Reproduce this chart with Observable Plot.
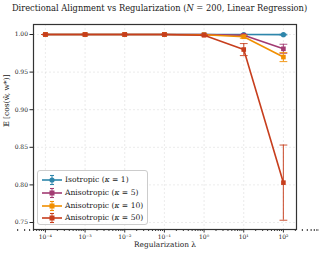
<!DOCTYPE html>
<html><head><meta charset="utf-8">
<script src="https://cdn.jsdelivr.net/npm/d3@7"></script>
<script src="https://cdn.jsdelivr.net/npm/@observablehq/plot@0.6"></script>
<style>
body{margin:0;background:#fff;}
#wrap{position:relative;width:319px;height:255px;font-family:"DejaVu Serif",serif;}
#title{position:absolute;left:0;top:3px;width:319px;text-align:center;font-size:8.3px;color:#222;white-space:nowrap;}
#legend{position:absolute;left:37px;top:170px;width:111px;height:55px;background:rgba(255,255,255,0.85);border:1px solid #ccc;border-radius:3px;box-sizing:border-box;}
.row{position:absolute;left:0;height:12px;font-size:7.6px;color:#222;white-space:nowrap;}
.row svg{position:absolute;left:3px;top:0;}
.row span{position:absolute;left:27px;top:0;line-height:12px;}
</style></head>
<body><div id="wrap"><div id="title">Directional Alignment vs Regularization (<i>N</i> = 200, Linear Regression)</div><div id="chart"></div><div id="legend"></div></div>
<script>
const lambdas = [1e-4, 1e-3, 1e-2, 1e-1, 1, 10, 100];
const seriesNames = ["Isotropic (κ = 1)", "Anisotropic (κ = 5)", "Anisotropic (κ = 10)", "Anisotropic (κ = 50)"];
const seriesColors = ["#2E86AB", "#A23B72", "#F18F01", "#C73E1D"];
const seriesSymbols = ["circle", "square", "square", "square"];
const meanIso = [1.000, 1.000, 1.000, 1.000, 1.000, 1.000, 0.9998];
const stdIso  = [0, 0, 0, 0, 0, 0.0002, 0.0005];
const meanK5  = [1.000, 1.000, 1.000, 1.000, 0.9998, 0.999, 0.981];
const stdK5   = [0, 0, 0, 0, 0.0002, 0.001, 0.006];
const meanK10 = [1.000, 1.000, 1.000, 1.000, 0.9997, 0.997, 0.970];
const stdK10  = [0, 0, 0, 0, 0.0003, 0.002, 0.006];
const meanK50 = [1.000, 1.000, 1.000, 1.000, 0.999, 0.980, 0.803];
const stdK50  = [0, 0, 0, 0, 0.0005, 0.008, 0.050];
const yTicks = [0.75, 0.80, 0.85, 0.90, 0.95, 1.00];
const xTickLabels = ["10⁻⁴", "10⁻³", "10⁻²", "10⁻¹", "10⁰", "10¹", "10²"];

const means = [meanIso, meanK5, meanK10, meanK50];
const stds = [stdIso, stdK5, stdK10, stdK50];
const data = [];
seriesNames.forEach((s, i) => lambdas.forEach((l, j) => data.push({series: s, idx: i, lambda: l, mean: means[i][j], std: stds[i][j]})));
const minor = [];
for (let e = -5; e <= 2; e++) for (let k = 2; k <= 9; k++) minor.push(k * Math.pow(10, e));
const capSymbol = {draw(ctx, size) { const r = Math.sqrt(size); ctx.moveTo(-r, 0); ctx.lineTo(r, 0); }};
const FONT = '"DejaVu Serif",serif';

const marks = [
  Plot.gridX(lambdas, {stroke: "#bbb", strokeOpacity: 0.5, strokeDasharray: "2,2", strokeWidth: 0.6}),
  Plot.gridY(yTicks, {stroke: "#bbb", strokeOpacity: 0.5, strokeDasharray: "2,2", strokeWidth: 0.6}),
];
seriesNames.forEach((s, i) => {
  const d = data.filter(r => r.idx === i);
  marks.push(
    Plot.ruleX(d, {x: "lambda", y1: r => r.mean - r.std, y2: r => r.mean + r.std, stroke: seriesColors[i], strokeWidth: 1.2, strokeOpacity: 0.8}),
    Plot.dot(d, {x: "lambda", y: r => r.mean - r.std, symbol: capSymbol, r: 2.2, stroke: seriesColors[i], strokeWidth: 1.1, fill: "none", strokeOpacity: 0.8}),
    Plot.dot(d, {x: "lambda", y: r => r.mean + r.std, symbol: capSymbol, r: 2.2, stroke: seriesColors[i], strokeWidth: 1.1, fill: "none", strokeOpacity: 0.8}),
    Plot.line(d, {x: "lambda", y: "mean", stroke: seriesColors[i], strokeWidth: 1.6}),
    Plot.dot(d, {x: "lambda", y: "mean", symbol: seriesSymbols[i], r: 2.6, fill: seriesColors[i], stroke: "none"})
  );
});
marks.push(
  Plot.axisX({ticks: minor, tickSize: 2, tickFormat: () => "", label: null, stroke: "#333"}),
  Plot.axisX({ticks: lambdas, tickSize: 3.5, tickFormat: (d) => xTickLabels[lambdas.indexOf(d)], fontSize: 6, tickPadding: 2, label: null, stroke: "#333"}),
  Plot.axisY({ticks: yTicks, tickSize: 3.5, tickFormat: d3.format(".2f"), fontSize: 6, tickPadding: 2, label: null}),
  Plot.frame({stroke: "#333", strokeWidth: 1.2}),
  Plot.text(["𝔼 [cos(ŵ, w*)]"], {frameAnchor: "left", dx: -27, rotate: -90, fontSize: 7.5, fill: "#222", text: d => d}),
  Plot.text(["Regularization λ"], {frameAnchor: "bottom", dy: 17, fontSize: 7.4, fill: "#222", text: d => d})
);

const chart = Plot.plot({
  width: 319, height: 255,
  marginLeft: 33, marginRight: 23, marginTop: 24, marginBottom: 26,
  style: {fontFamily: FONT, color: "#222", background: "#fff"},
  x: {type: "log", domain: [Math.pow(10, -4.3), Math.pow(10, 2.33)]},
  y: {domain: [0.7407, 1.0133]},
  marks
});
chart.style.position = "absolute"; chart.style.left = "0"; chart.style.top = "0";
document.getElementById("chart").appendChild(chart);
document.getElementById("title").style.zIndex = 2;
const leg = document.getElementById("legend");
leg.style.zIndex = 2;
seriesNames.forEach((s, i) => {
  const row = document.createElement("div");
  row.className = "row";
  row.style.top = (3 + i * 12.8) + "px";
  row.style.width = "108px";
  const c = seriesColors[i];
  const mk = seriesSymbols[i] === "circle"
    ? `<circle cx="11" cy="6" r="2.6" fill="${c}"/>`
    : `<rect x="8.5" y="3.5" width="5" height="5" fill="${c}"/>`;
  row.innerHTML = `<svg width="22" height="12"><line x1="1" x2="21" y1="6" y2="6" stroke="${c}" stroke-width="1.6"/><line x1="11" x2="11" y1="1.5" y2="10.5" stroke="${c}" stroke-width="1.1" opacity="0.8"/><line x1="9" x2="13" y1="1.5" y2="1.5" stroke="${c}" stroke-width="1.1"/><line x1="9" x2="13" y1="10.5" y2="10.5" stroke="${c}" stroke-width="1.1"/>${mk}</svg><span>${s.replace(/(κ)/, "<i>κ</i>")}</span>`;
  leg.appendChild(row);
});
</script></body></html>
